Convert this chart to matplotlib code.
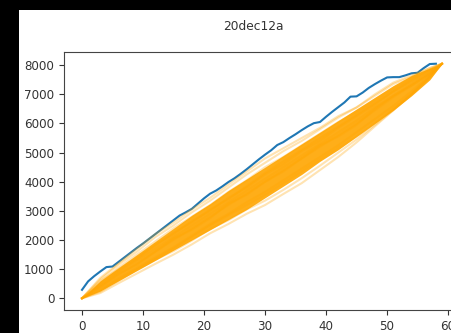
import matplotlib
matplotlib.use("Agg")
import matplotlib.pyplot as plt
from matplotlib.patches import Rectangle

title = "20dec12a"

# observed cumulative series (blue), x = 0..58
blue_y = [290, 580, 760, 920, 1070, 1090, 1250, 1410, 1570, 1730,
          1880, 2040, 2200, 2360, 2520, 2680, 2840, 2950, 3070, 3250,
          3430, 3590, 3700, 3840, 3990, 4120, 4270, 4430, 4600, 4770,
          4930, 5080, 5260, 5360, 5500, 5630, 5770, 5900, 6010, 6050,
          6230, 6400, 6560, 6720, 6920, 6930, 7060, 7220, 7350, 7470,
          7580, 7590, 7590, 7650, 7720, 7740, 7900, 8040, 8050]
blue_x = list(range(len(blue_y)))

# shuffled cumulative series (orange), sampled at these x positions
orange_x = [0, 3, 6, 9, 12, 15, 18, 21, 24, 27, 30, 33, 36, 39, 42, 45, 48, 51, 54, 57, 59]
orange_1 = [0, 700, 1200, 1700, 2200, 2600, 3050, 3450, 3900, 4350, 4800, 5150, 5500, 5850, 6250, 6550, 7000, 7400, 7650, 7900, 8050]
orange_2 = [0, 180, 520, 850, 1180, 1500, 1850, 2230, 2550, 2900, 3200, 3580, 3950, 4400, 4850, 5350, 5900, 6450, 7000, 7600, 8050]
orange_3 = [0, 550, 1050, 1500, 1950, 2400, 2800, 3200, 3650, 4050, 4500, 4850, 5250, 5650, 6050, 6400, 6800, 7200, 7550, 7850, 8050]
orange_4 = [0, 300, 700, 1050, 1400, 1750, 2150, 2550, 2900, 3300, 3650, 4050, 4450, 4850, 5250, 5700, 6150, 6600, 7100, 7650, 8050]
orange_5 = [0, 450, 900, 1300, 1700, 2100, 2500, 2900, 3300, 3700, 4100, 4500, 4900, 5300, 5700, 6100, 6550, 6950, 7350, 7750, 8050]
orange_6 = [0, 400, 800, 1200, 1600, 2000, 2400, 2800, 3200, 3600, 4000, 4400, 4800, 5200, 5600, 6000, 6450, 6900, 7300, 7700, 8050]
orange_7 = [0, 500, 950, 1350, 1850, 2200, 2650, 3000, 3450, 3800, 4250, 4600, 5050, 5400, 5850, 6250, 6650, 7100, 7450, 7800, 8050]
orange_8 = [0, 220, 600, 980, 1320, 1620, 1980, 2380, 2680, 3050, 3350, 3720, 4120, 4550, 5000, 5450, 5950, 6450, 7000, 7600, 8050]
orange_9 = [0, 600, 1000, 1400, 1800, 2250, 2600, 3050, 3400, 3850, 4300, 4700, 5100, 5500, 5900, 6300, 6700, 7100, 7500, 7850, 8050]
orange_10 = [0, 250, 650, 1000, 1350, 1700, 2100, 2500, 2850, 3200, 3550, 3950, 4350, 4750, 5150, 5550, 6000, 6500, 7000, 7550, 8050]
orange_11 = [0, 650, 1150, 1600, 2100, 2500, 2950, 3350, 3800, 4250, 4650, 5050, 5400, 5800, 6200, 6550, 6950, 7350, 7600, 7900, 8050]
orange_12 = [0, 380, 850, 1150, 1600, 2050, 2350, 2750, 3250, 3550, 4000, 4350, 4800, 5250, 5550, 5950, 6500, 6950, 7300, 7700, 8050]
orange_lines = [orange_1, orange_2, orange_3, orange_4, orange_5, orange_6,
                orange_7, orange_8, orange_9, orange_10, orange_11, orange_12]

# dense core of the orange band
core_low = [0, 250, 600, 950, 1300, 1650, 2000, 2350, 2700, 3050, 3450, 3850, 4250, 4700, 5100, 5550, 6000, 6450, 6950, 7500, 8050]
core_high = [0, 600, 1050, 1500, 1950, 2400, 2850, 3250, 3700, 4100, 4500, 4900, 5300, 5700, 6100, 6500, 6900, 7300, 7650, 7900, 8050]

W, H = 451, 333
fig = plt.figure(figsize=(W / 100, H / 100), dpi=100)
fig.patch.set_facecolor("black")
bg = Rectangle((18.5 / W, 0), 1, (H - 9.5) / H,
               transform=fig.transFigure, facecolor="white",
               edgecolor="none", zorder=-10)
fig.add_artist(bg)

ax = fig.add_axes([64 / W, (H - 310) / H, 396 / W, 258 / H])
ax.set_zorder(1)
ax.plot(blue_x, blue_y, color="#1f77b4", lw=1.5, zorder=2)
ax.fill_between(orange_x, core_low, core_high, color="orange", alpha=0.9,
                lw=0, zorder=3)
for ys in orange_lines:
    ax.plot(orange_x, ys, color="orange", alpha=0.3, lw=1.5, zorder=3)

ax.set_yticks([0, 1000, 2000, 3000, 4000, 5000, 6000, 7000, 8000])
ax.set_xticks([0, 10, 20, 30, 40, 50, 60])
ax.tick_params(labelsize=8.6, colors="#333333")
for s in ax.spines.values():
    s.set_color("#444444")

fig.text(253 / W, 1 - 26 / H, title, ha="center", va="center",
         fontsize=8.8, color="#333333")

fig.savefig("out.png", dpi=100, facecolor=fig.get_facecolor())
